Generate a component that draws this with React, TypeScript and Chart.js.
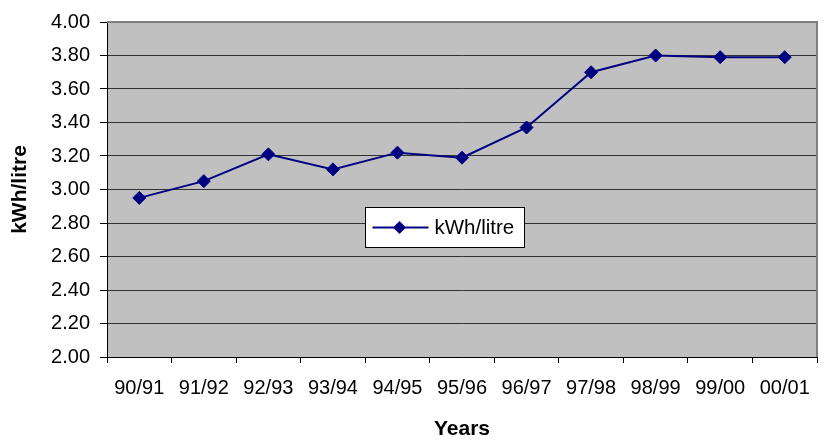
import React, { useEffect, useRef } from "react";
import { Chart, registerables } from "chart.js";

Chart.register(...registerables);

const categories = ["90/91", "91/92", "92/93", "93/94", "94/95", "95/96", "96/97", "97/98", "98/99", "99/00", "00/01"];
const kwhPerLitre = [2.95, 3.05, 3.21, 3.12, 3.22, 3.19, 3.37, 3.70, 3.80, 3.79, 3.79];
const seriesLabel = "kWh/litre";
const xTitle = "Years";
const yTitle = "kWh/litre";

const FONT = "'Liberation Sans', Arial, sans-serif";
const NAVY = "#000080";

const plotBg = {
  id: "plotBg",
  beforeDraw(chart: any) {
    const { ctx, chartArea: a } = chart;
    ctx.save();
    ctx.fillStyle = "#C0C0C0";
    ctx.fillRect(a.left, a.top, a.right - a.left, a.bottom - a.top);
    ctx.restore();
  },
  beforeDatasetsDraw(chart: any) {
    const { ctx, chartArea: a } = chart;
    ctx.save();
    ctx.strokeStyle = "#808080";
    ctx.lineWidth = 2;
    ctx.beginPath();
    ctx.moveTo(a.left, a.top);
    ctx.lineTo(a.right, a.top);
    ctx.lineTo(a.right, a.bottom);
    ctx.stroke();
    ctx.restore();
  },
};

const boxLegend = {
  id: "boxLegend",
  afterDraw(chart: any) {
    const { ctx, chartArea: a } = chart;
    const w = a.right - a.left;
    const h = a.bottom - a.top;
    const x = Math.round(a.left + w * 0.364) + 0.5;
    const y = Math.round(a.top + h * 0.553) + 0.5;
    const bw = 159;
    const bh = 40;
    ctx.save();
    ctx.fillStyle = "#fff";
    ctx.fillRect(x, y, bw, bh);
    ctx.strokeStyle = "#000";
    ctx.lineWidth = 1;
    ctx.strokeRect(x, y, bw, bh);
    const cy = y + bh / 2;
    ctx.strokeStyle = NAVY;
    ctx.lineWidth = 2;
    ctx.beginPath();
    ctx.moveTo(x + 7, cy);
    ctx.lineTo(x + 63, cy);
    ctx.stroke();
    ctx.fillStyle = NAVY;
    const cx = x + 34;
    const r = 6.5;
    ctx.beginPath();
    ctx.moveTo(cx - r, cy);
    ctx.lineTo(cx, cy - r);
    ctx.lineTo(cx + r, cy);
    ctx.lineTo(cx, cy + r);
    ctx.closePath();
    ctx.fill();
    ctx.fillStyle = "#000";
    ctx.font = `20.5px ${FONT}`;
    ctx.textBaseline = "middle";
    ctx.textAlign = "left";
    ctx.fillText(chart.data.datasets[0].label, x + 69, cy + 1);
    ctx.restore();
  },
};

export default function App() {
  const ref = useRef<HTMLCanvasElement | null>(null);
  useEffect(() => {
    if (!ref.current) return;
    const chart = new Chart(ref.current, {
      type: "line",
      data: {
        labels: categories,
        datasets: [
          {
            label: seriesLabel,
            data: kwhPerLitre,
            borderColor: NAVY,
            backgroundColor: NAVY,
            borderWidth: 2,
            pointStyle: "rectRot",
            pointRadius: 6.5,
            pointHoverRadius: 6.5,
            pointBackgroundColor: NAVY,
            pointBorderColor: NAVY,
            pointBorderWidth: 1,
            tension: 0,
            fill: false,
          },
        ],
      },
      options: {
        responsive: false,
        animation: false,
        devicePixelRatio: 1,
        layout: { padding: { top: 19, right: 8, left: 0, bottom: 0 } },
        plugins: {
          legend: { display: false },
          tooltip: { enabled: false },
        },
        scales: {
          x: {
            type: "category",
            offset: true,
            grid: {
              display: true,
              drawOnChartArea: false,
              drawTicks: true,
              tickLength: 6,
              offset: true,
              color: "#000",
              tickColor: "#000",
            },
            border: { display: true, color: "#000", width: 1 },
            ticks: {
              color: "#000",
              font: { family: FONT, size: 20 },
              padding: 13,
              maxRotation: 0,
              autoSkip: false,
            },
            title: {
              display: true,
              text: xTitle,
              color: "#000",
              font: { family: FONT, size: 21, weight: "bold" },
              padding: { top: 0, bottom: 0 },
            },
            afterFit: (s: any) => {
              s.height = 85;
            },
          },
          y: {
            min: 2,
            max: 4,
            grid: {
              color: "#333",
              tickColor: "#000",
              tickLength: 7,
              lineWidth: 1,
            },
            border: { display: true, color: "#000", width: 1 },
            ticks: {
              stepSize: 0.2,
              color: "#000",
              font: { family: FONT, size: 20 },
              padding: 10,
              callback: (v: any) => Number(v).toFixed(2),
            },
            title: {
              display: true,
              text: yTitle,
              color: "#000",
              font: { family: FONT, size: 21, weight: "bold" },
              padding: { top: 8, bottom: 0 },
            },
            afterFit: (s: any) => {
              s.width = 107;
            },
          },
        },
      },
      plugins: [plotBg, boxLegend],
    } as any);
    return () => chart.destroy();
  }, []);
  return (
    <div style={{ position: "absolute", left: 0, top: 0, width: 825, height: 442, background: "#fff" }}>
      <canvas ref={ref} width={825} height={442} style={{ width: 825, height: 442, display: "block" }} />
    </div>
  );
}
